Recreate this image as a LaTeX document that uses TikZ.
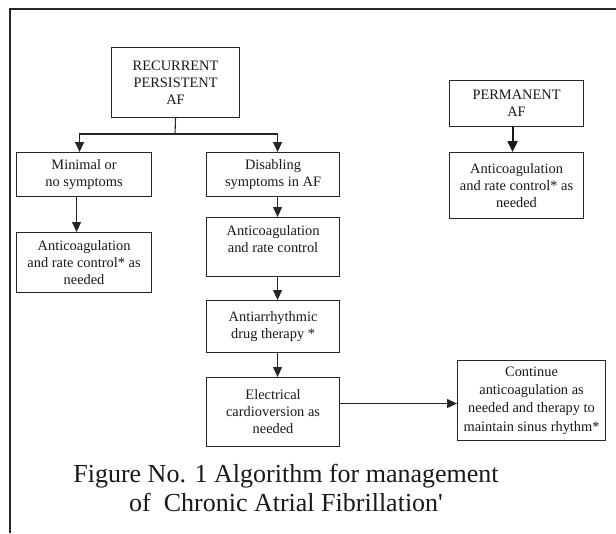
\documentclass[tikz,border=0pt]{standalone}
\usepackage{fontspec}
\setmainfont{Liberation Serif}
\usetikzlibrary{arrows.meta}
\begin{document}
\begin{tikzpicture}[x=1pt,y=-1pt,
  box/.style={draw=black!85, line width=1.1pt, inner sep=0pt, align=center,
    text=black!90, font=\fontsize{14.4}{17}\selectfont, anchor=north west},
  arr/.style={draw=black!85, line width=1.1pt, -{Triangle[width=9pt,length=10pt]}},
  thickarr/.style={draw=black!90, line width=2pt, -{Triangle[width=10pt,length=11pt]}},
  link/.style={draw=black!85, line width=1.1pt},
  frame/.style={draw=black!85, line width=2pt}]
\useasboundingbox (0,0) rectangle (616,533);
\fill[white] (0,0) rectangle (616,533);
\draw[frame] (616,9) -- (10,9) -- (10,533);

\node[box, minimum width=128pt, minimum height=70pt] (rec) at (111,47) {RECURRENT\\PERSISTENT\\AF};
\node[box, minimum width=134pt, minimum height=46pt] (perm) at (449,80) {PERMANENT\\AF};
\node[box, minimum width=135pt, minimum height=44pt] (minsym) at (16,152) {Minimal or\\no symptoms};
\node[box, minimum width=133pt, minimum height=44pt] (disab) at (206,152) {Disabling\\symptoms in AF};
\node[box, minimum width=134pt, minimum height=66pt] (acr) at (449,152) {Anticoagulation\\and rate control* as\\needed};
\node[box, minimum width=135pt, minimum height=60pt] (acl) at (16,232) {Anticoagulation\\and rate control* as\\needed};
\node[box, minimum width=133pt, minimum height=59pt] (acm) at (206,217) {Anticoagulation\\and rate control\\\mbox{}};
\node[box, minimum width=133pt, minimum height=52pt] (anti) at (206,300) {Antiarrhythmic\\drug therapy *};
\node[box, minimum width=133pt, minimum height=69pt] (elec) at (206,377) {Electrical\\cardioversion as\\needed};
\node[box, minimum width=148pt, minimum height=80pt, font=\fontsize{14.4}{18.3}\selectfont] (cont) at (457,360) {Continue\\anticoagulation as\\needed and therapy to\\maintain sinus rhythm*};

\coordinate (j) at (175,134);
\draw[link] (rec.south) -- (j);
\draw[arr] (j) -| ([xshift=-4.5pt]minsym.north);
\draw[arr] (j) -| ([xshift=4.5pt]disab.north);
\draw[arr] ([xshift=-7.5pt]minsym.south) -- ([xshift=-7.5pt]acl.north);
\draw[arr] ([xshift=4.5pt]disab.south) -- ([xshift=4.5pt]acm.north);
\draw[arr] ([xshift=4.5pt]acm.south) -- ([xshift=4.5pt]anti.north);
\draw[arr] ([xshift=4.5pt]anti.south) -- ([xshift=4.5pt]elec.north);
\draw[thickarr] ([xshift=-4pt]perm.south) -- ([xshift=-4pt]acr.north);
\draw[arr] ([yshift=8.5pt]elec.east) -- ([yshift=8.5pt]elec.east -| cont.west);

\node[align=center, text=black!90, font=\fontsize{26}{29}\selectfont, inner sep=0pt] (cap) at (286,488)
  {Figure No. 1 Algorithm for management\\of\ \ Chronic Atrial Fibrillation\textquotesingle};
\end{tikzpicture}
\end{document}
